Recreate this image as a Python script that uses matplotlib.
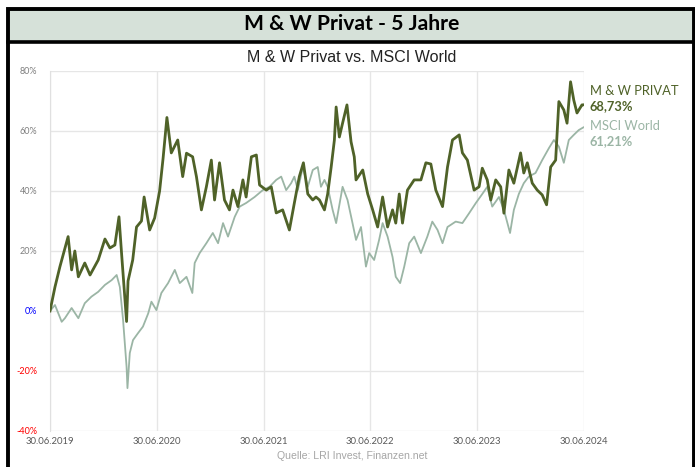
import pandas as pd
import matplotlib
matplotlib.use("Agg")
from matplotlib import pyplot as plt
from matplotlib.patches import Rectangle

# Werte (Wertentwicklung in %)
mw_dates = ["2019-06-30", "2019-07-17", "2019-08-03", "2019-08-31", "2019-09-12", "2019-09-23",
            "2019-10-05", "2019-10-27", "2019-11-14", "2019-12-12", "2020-01-04", "2020-01-21",
            "2020-02-07", "2020-02-21", "2020-03-01", "2020-03-18", "2020-03-23", "2020-04-08",
            "2020-04-21", "2020-05-08", "2020-05-17", "2020-06-05", "2020-06-22", "2020-07-09",
            "2020-07-21", "2020-08-03", "2020-08-18", "2020-09-09", "2020-09-26", "2020-10-09",
            "2020-10-30", "2020-11-12", "2020-11-29", "2020-12-16", "2021-01-02", "2021-01-13",
            "2021-01-30", "2021-02-16", "2021-03-05", "2021-03-17", "2021-04-03", "2021-04-20",
            "2021-05-01", "2021-05-19", "2021-06-05", "2021-06-16", "2021-07-09", "2021-07-26",
            "2021-08-12", "2021-09-03", "2021-09-26", "2021-10-13", "2021-10-30", "2021-11-13",
            "2021-11-28", "2021-12-15", "2021-12-26", "2022-01-07", "2022-01-24", "2022-02-04",
            "2022-02-16", "2022-02-27", "2022-03-05", "2022-03-16", "2022-03-27", "2022-04-11",
            "2022-04-25", "2022-05-06", "2022-05-12", "2022-06-04", "2022-06-21", "2022-07-08",
            "2022-07-25", "2022-08-11", "2022-08-28", "2022-09-14", "2022-09-25", "2022-10-07",
            "2022-10-18", "2022-11-04", "2022-11-27", "2022-12-20", "2023-01-06", "2023-01-23",
            "2023-02-09", "2023-03-04", "2023-03-21", "2023-04-07", "2023-04-30", "2023-05-11",
            "2023-05-28", "2023-06-20", "2023-07-07", "2023-07-18", "2023-08-04", "2023-08-16",
            "2023-09-02", "2023-09-19", "2023-09-30", "2023-10-17", "2023-11-03", "2023-11-26",
            "2023-12-07", "2023-12-19", "2024-01-05", "2024-01-22", "2024-02-08", "2024-02-23",
            "2024-03-08", "2024-03-25", "2024-04-05", "2024-04-22", "2024-05-03", "2024-05-15",
            "2024-05-26", "2024-06-06", "2024-06-23", "2024-06-28"]
mw_values = [0.0, 8.0, 14.8, 24.8, 13.7, 20.0,
             11.4, 16.0, 12.0, 17.0, 24.0, 21.0,
             22.0, 31.4, 19.0, -3.5, 10.0, 17.0,
             28.0, 30.0, 38.0, 27.0, 31.0, 40.0,
             51.0, 64.5, 52.7, 57.0, 44.8, 52.6,
             51.4, 44.8, 33.7, 41.4, 50.3, 37.0,
             49.4, 37.0, 33.7, 40.3, 34.8, 43.7,
             38.0, 51.4, 52.0, 42.0, 40.3, 41.4,
             32.7, 33.7, 27.0, 36.0, 44.8, 49.4,
             39.0, 37.0, 38.0, 37.0, 33.7, 39.0,
             48.0, 57.0, 68.0, 58.0, 62.6, 68.7,
             56.4, 51.4, 43.7, 47.0, 39.0, 33.7,
             28.0, 38.0, 28.0, 33.7, 29.3, 39.0,
             29.3, 40.3, 43.7, 43.7, 49.4, 49.0,
             40.3, 34.8, 48.0, 57.0, 58.7, 52.7,
             50.3, 40.3, 41.4, 47.6, 43.7, 37.0,
             43.7, 41.4, 32.6, 47.0, 42.6, 52.7,
             46.0, 49.4, 42.6, 40.3, 38.7, 35.4,
             48.0, 50.3, 69.8, 67.0, 62.6, 76.4,
             70.3, 66.0, 68.7, 68.73]

msci_dates = ["2019-06-30", "2019-07-17", "2019-08-09", "2019-08-20", "2019-09-12", "2019-10-05",
              "2019-10-27", "2019-11-19", "2019-12-12", "2020-01-04", "2020-01-27", "2020-02-13",
              "2020-02-24", "2020-03-06", "2020-03-18", "2020-03-21", "2020-03-29", "2020-04-09",
              "2020-04-26", "2020-05-13", "2020-05-31", "2020-06-11", "2020-06-28", "2020-07-15",
              "2020-08-07", "2020-08-30", "2020-09-16", "2020-10-09", "2020-10-29", "2020-11-06",
              "2020-11-23", "2020-12-16", "2021-01-07", "2021-01-25", "2021-02-11", "2021-02-28",
              "2021-03-23", "2021-04-09", "2021-05-01", "2021-05-30", "2021-06-27", "2021-07-20",
              "2021-08-12", "2021-08-29", "2021-09-15", "2021-10-02", "2021-10-13", "2021-10-25",
              "2021-11-11", "2021-11-28", "2021-12-15", "2022-01-01", "2022-01-12", "2022-01-24",
              "2022-02-04", "2022-02-21", "2022-03-05", "2022-03-27", "2022-04-13", "2022-04-30",
              "2022-05-12", "2022-05-29", "2022-06-15", "2022-06-26", "2022-07-13", "2022-07-30",
              "2022-08-11", "2022-08-28", "2022-09-14", "2022-09-25", "2022-10-10", "2022-10-24",
              "2022-11-10", "2022-11-27", "2022-12-20", "2023-01-11", "2023-01-28", "2023-02-15",
              "2023-03-04", "2023-03-21", "2023-04-18", "2023-05-11", "2023-06-03", "2023-06-26",
              "2023-07-18", "2023-08-04", "2023-08-21", "2023-09-13", "2023-09-30", "2023-10-21",
              "2023-11-03", "2023-11-20", "2023-12-07", "2023-12-24", "2024-01-16", "2024-02-08",
              "2024-03-02", "2024-03-19", "2024-04-05", "2024-04-22", "2024-05-09", "2024-05-26",
              "2024-06-12", "2024-06-28"]
msci_values = [0.0, 2.0, -3.6, -2.4, 1.0, -2.4,
               2.6, 4.8, 6.4, 8.7, 10.3, 12.0,
               8.0, -3.0, -18.6, -25.7, -14.0, -9.7,
               -7.4, -5.2, -0.8, 3.1, 0.3, 6.0,
               9.3, 13.7, 9.3, 11.4, 6.0, 16.0,
               19.3, 22.6, 26.0, 22.6, 29.3, 24.8,
               31.4, 34.8, 36.0, 38.0, 40.3, 41.4,
               43.7, 44.8, 40.3, 42.6, 44.8, 40.3,
               48.0, 41.4, 47.0, 48.0, 41.4, 43.7,
               41.4, 33.7, 29.3, 41.4, 37.0, 29.3,
               23.7, 28.0, 14.8, 19.3, 17.0, 23.7,
               29.3, 24.8, 18.0, 11.4, 9.3, 14.8,
               22.6, 24.8, 19.3, 24.8, 29.8, 27.0,
               22.6, 28.0, 29.8, 29.3, 32.6, 36.0,
               39.0, 41.4, 34.8, 38.0, 33.7, 26.0,
               33.7, 39.0, 42.6, 44.8, 46.0, 50.3,
               54.3, 57.0, 54.8, 49.4, 57.0, 58.7,
               60.3, 61.21]

x_ticks = ["2019-06-30", "2020-06-30", "2021-06-30", "2022-06-30", "2023-06-30", "2024-06-30"]
y_ticks = [-40, -20, 0, 20, 40, 60, 80]

W, H = 695, 467
c_mw = "#4f6228"
c_msci = "#9bb5a5"


def fx(px):
    return px / W


def fy(py):
    return 1 - py / H


fig = plt.figure(figsize=(W / 100, H / 100), dpi=100)
fig.patch.set_facecolor("white")

# Kopfzeile mit Rahmen
fig.patches.append(Rectangle((fx(8), fy(41.5)), fx(685.5), fy(8.5) - fy(41.5), transform=fig.transFigure,
                             facecolor="#d6e1d9", edgecolor="none", zorder=0))
fig.patches.append(Rectangle((fx(8), fy(480)), fx(685.5), fy(8.5) - fy(480), transform=fig.transFigure,
                             facecolor="none", edgecolor="black", lw=2.8, zorder=5))
fig.add_artist(plt.Line2D([fx(8), fx(693.5)], [fy(41.5), fy(41.5)], transform=fig.transFigure,
                          color="black", lw=2.6, zorder=5))
fig.text(fx(352), fy(24), "M & W Privat - 5 Jahre", ha="center", va="center",
         fontsize=15.2, fontweight="bold", family="Lato", color="black")
fig.text(fx(352), fy(57), "M & W Privat vs. MSCI World", ha="center", va="center",
         fontsize=11.5, family="Liberation Sans", color="#222222")

ax = fig.add_axes([fx(50), fy(431), fx(584) - fx(50), fy(71) - fy(431)])
d_mw = pd.to_datetime(mw_dates)
d_msci = pd.to_datetime(msci_dates)
ax.plot(d_msci, msci_values, color=c_msci, lw=1.3, zorder=3)
ax.plot(d_mw, mw_values, color=c_mw, lw=2.0, zorder=4)

ax.set_xlim(pd.Timestamp(x_ticks[0]), pd.Timestamp(x_ticks[-1]))
ax.set_ylim(-40, 80)
ax.set_xticks(pd.to_datetime(x_ticks))
ax.set_xticklabels([pd.Timestamp(d).strftime("%d.%m.%Y") for d in x_ticks],
                   fontsize=6.8, color="#595959", family="Lato")
ax.set_yticks(y_ticks)
ax.set_yticklabels([f"{v}%" for v in y_ticks], fontsize=6.5, family="Lato")
for lab, v in zip(ax.get_yticklabels(), y_ticks):
    lab.set_color("#0000ff" if v == 0 else ("#ff0000" if v < 0 else "#7f7f7f"))
ax.tick_params(axis="both", length=0)
ax.tick_params(axis="y", pad=9)
ax.tick_params(axis="x", pad=4)
ax.grid(True, color="#e6e6e6", lw=1.0)
ax.set_axisbelow(True)
for s in ax.spines.values():
    s.set_visible(False)
ax.spines["left"].set_visible(True)
ax.spines["left"].set_color("#e0e0e0")

# Beschriftung rechts
fig.text(fx(590), fy(91), "M & W PRIVAT", fontsize=9.3, family="Lato", color=c_mw, va="center")
fig.text(fx(590), fy(106), "68,73%", fontsize=9.3, family="Lato", fontweight="bold", color=c_mw, va="center")
fig.text(fx(590), fy(126), "MSCI World", fontsize=9.3, family="Lato", color=c_msci, va="center")
fig.text(fx(590), fy(141), "61,21%", fontsize=9.3, family="Lato", fontweight="bold", color=c_msci, va="center")

fig.text(fx(352), fy(456), "Quelle: LRI Invest, Finanzen.net", ha="center", va="center",
         fontsize=7.6, family="Liberation Sans", color="#a6a6a6")

fig.savefig("out.png", dpi=100)
